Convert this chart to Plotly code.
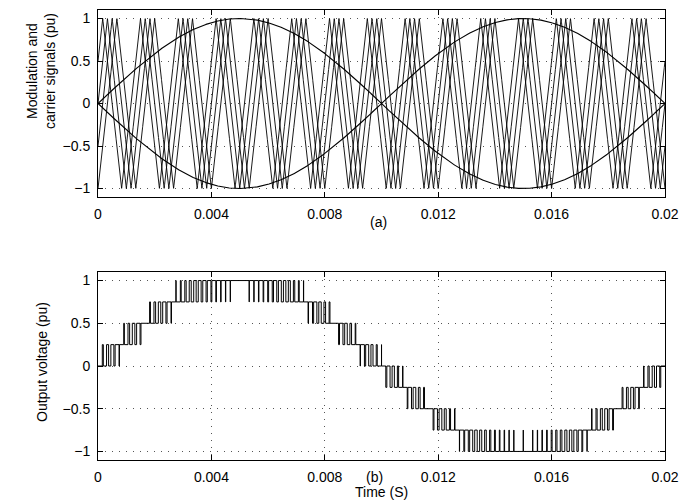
import numpy as np
import plotly.graph_objects as go

# ---- values ----
FUNDAMENTAL_HZ = 50.0          # modulation frequency (one period over 0.02 s)
CARRIER_HZ = 750.0             # 15 carrier periods over 0.02 s
CARRIER_SHIFTS = [0.0, 0.125, 0.25, 0.375]   # phase shift of each carrier (fraction of carrier period)
MOD_AMPLITUDE = 1.0            # peak of modulation signals (pu)
T_END = 0.02                   # s
SAMPLE_STEP = 2e-6             # s

X_TICKS = [0, 0.004, 0.008, 0.012, 0.016, 0.02]
X_TICK_LABELS = ["0", "0.004", "0.008", "0.012", "0.016", "0.02"]
Y_TICKS = [-1, -0.5, 0, 0.5, 1]
Y_TICK_LABELS = ["\u22121", "\u22120.5", "0", "0.5", "1"]
Y_RANGE = [-1.1, 1.1]

TOP_YTITLE = "Modulation and<br>carrier signals (pu)"
BOT_YTITLE = "Output voltage (pu)"
BOT_XTITLE = "Time (S)"
LABEL_A = "(a)"
LABEL_B = "(b)"

# ---- signals ----
n = int(round(T_END / SAMPLE_STEP)) + 1
t = np.linspace(0.0, T_END, n)
Tc = 1.0 / CARRIER_HZ
mod = MOD_AMPLITUDE * np.sin(2 * np.pi * FUNDAMENTAL_HZ * t)


def carrier(shift):
    p = np.mod((t + shift * Tc) / Tc, 1.0)
    return 1.0 - 4.0 * np.abs(p - 0.5)


carriers = [carrier(s) for s in CARRIER_SHIFTS]
cells = [(mod > c).astype(float) - ((-mod) > c).astype(float) for c in carriers]
vout = np.sum(cells, axis=0) / len(CARRIER_SHIFTS)

# keep only change points for the stepped output
keep = np.ones(n, dtype=bool)
keep[1:] = np.diff(vout) != 0
keep[-1] = True
t_out = t[keep]
v_out = vout[keep]

# ---- layout geometry (page pixels; the page body adds an 8 px offset) ----
OFF = 8
W, H = 691, 495
ML, MR, MT, MB = 90, 34, 2, 43
PW, PH = W - ML - MR, H - MT - MB


def px(xp):
    return (xp - OFF - ML) / PW


def py(yp):
    return (OFF + H - MB - yp) / PH


TOP_DOMAIN = [py(197), py(10)]
BOT_DOMAIN = [py(460), py(272)]

LINE = dict(color="black", width=0.9)

fig = go.Figure()
for c in carriers:
    fig.add_trace(go.Scatter(x=t, y=c, mode="lines", line=LINE, xaxis="x", yaxis="y",
                             showlegend=False, hoverinfo="skip"))
fig.add_trace(go.Scatter(x=t, y=mod, mode="lines", line=dict(color="black", width=1.1),
                         xaxis="x", yaxis="y", showlegend=False, hoverinfo="skip"))
fig.add_trace(go.Scatter(x=t, y=-mod, mode="lines", line=dict(color="black", width=1.1),
                         xaxis="x", yaxis="y", showlegend=False, hoverinfo="skip"))
fig.add_trace(go.Scatter(x=t_out, y=v_out, mode="lines", line=dict(color="black", width=1, shape="hv"),
                         xaxis="x2", yaxis="y2", showlegend=False, hoverinfo="skip"))

FONT = dict(family="Liberation Sans, Arial, sans-serif", size=14, color="black")

axis_common = dict(
    showline=True, mirror="allticks", linecolor="black", linewidth=1,
    ticks="inside", ticklen=5, tickcolor="black", tickwidth=1,
    showgrid=True, gridcolor="#555555", griddash="1px,6px", gridwidth=1,
    zeroline=False, tickfont=FONT, ticklabelstandoff=4,
)


def note(text, xp, yp, angle=0):
    return dict(text=text, x=px(xp), y=py(yp), xref="paper", yref="paper",
                showarrow=False, font=FONT, xanchor="center", yanchor="middle",
                textangle=angle)


fig.update_layout(
    width=W, height=H,
    margin=dict(l=ML, r=MR, t=MT, b=MB),
    paper_bgcolor="white", plot_bgcolor="white",
    font=FONT,
    xaxis=dict(axis_common, domain=[0, 1], range=[0, T_END], tickvals=X_TICKS,
               ticktext=X_TICK_LABELS, anchor="y"),
    yaxis=dict(axis_common, domain=TOP_DOMAIN, range=Y_RANGE, tickvals=Y_TICKS,
               ticktext=Y_TICK_LABELS, anchor="x"),
    xaxis2=dict(axis_common, domain=[0, 1], range=[0, T_END], tickvals=X_TICKS,
                ticktext=X_TICK_LABELS, anchor="y2"),
    yaxis2=dict(axis_common, domain=BOT_DOMAIN, range=Y_RANGE, tickvals=Y_TICKS,
                ticktext=Y_TICK_LABELS, anchor="x2"),
    annotations=[
        note(TOP_YTITLE, 41, 71, -90),
        note(BOT_YTITLE, 42, 362, -90),
        note(BOT_XTITLE, 381, 492),
        note(LABEL_A, 378, 222),
        note(LABEL_B, 374, 477),
    ],
)

fig.write_html("out.html")
